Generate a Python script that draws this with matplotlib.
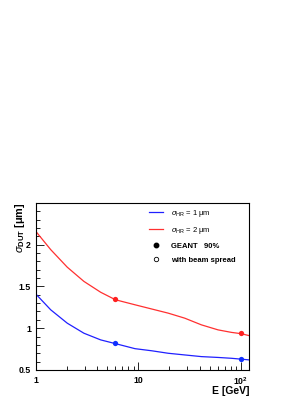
import matplotlib.pyplot as plt
from matplotlib.ticker import FixedLocator, FixedFormatter, MultipleLocator, LogLocator, NullFormatter
from matplotlib.lines import Line2D

plt.rcParams['font.family'] = ['Liberation Sans', 'DejaVu Sans']
plt.rcParams['mathtext.fontset'] = 'custom'
plt.rcParams['mathtext.rm'] = 'Liberation Sans'
plt.rcParams['mathtext.it'] = 'Liberation Sans:italic'
plt.rcParams['mathtext.bf'] = 'Liberation Sans:bold'

# curves
energy = [1, 1.4, 2.03, 2.95, 4.3, 6, 9.3, 13.5, 19.6, 28.4, 41.3, 60, 81, 100, 122]
sigma_hr1 = [1.41, 1.22, 1.06, 0.94, 0.86, 0.815, 0.755, 0.73, 0.70, 0.68, 0.66, 0.65, 0.64, 0.63, 0.62]
sigma_hr2 = [2.16, 1.94, 1.73, 1.56, 1.43, 1.34, 1.28, 1.23, 1.18, 1.12, 1.04, 0.98, 0.95, 0.935, 0.91]

# GEANT points
geant_e = [6, 100]
geant_hr1 = [0.82, 0.63]
geant_hr2 = [1.35, 0.94]

fig = plt.figure(figsize=(3.08, 3.98), dpi=100)
ax = fig.add_axes([0.116, 0.0704, 0.692, 0.420])

ax.plot(energy, sigma_hr1, color='#2020ff', lw=0.9)
ax.plot(energy, sigma_hr2, color='#ff3030', lw=0.9)
ax.plot(geant_e, geant_hr1, 'o', color='#1030ff', ms=3.8, mec='none')
ax.plot(geant_e, geant_hr2, 'o', color='#ff2020', ms=3.8, mec='none')

ax.set_xscale('log')
ax.set_xlim(1, 120)
ax.set_ylim(0.5, 2.5)

ax.xaxis.set_major_locator(FixedLocator([1, 10, 100]))
ax.xaxis.set_major_formatter(FixedFormatter(['1', '10', r'$\mathbf{10^2}$']))
ax.xaxis.set_minor_locator(LogLocator(subs=range(2, 10)))
ax.xaxis.set_minor_formatter(NullFormatter())
ax.yaxis.set_major_locator(FixedLocator([0.5, 1, 1.5, 2]))
ax.yaxis.set_major_formatter(FixedFormatter(['0.5', '1', '1.5', '2']))
ax.yaxis.set_minor_locator(MultipleLocator(0.1))

ax.tick_params(which='both', direction='in', top=False, right=False, labelsize=6.3, width=0.6)
ax.tick_params(which='major', length=6)
ax.tick_params(which='minor', length=3)
ax.tick_params(axis='x', pad=4)
for lab in ax.get_xticklabels() + ax.get_yticklabels():
    lab.set_fontweight('bold')
for s in ax.spines.values():
    s.set_linewidth(0.8)

# axis titles, ROOT style placement
fig.text(249 / 308, 1 - 391 / 398, 'E [GeV]', fontsize=7.5, fontweight='bold', ha='right', va='center')
fig.text(20 / 308, 1 - 203 / 398, r'$\sigma_{\mathbf{DUT}}$ [μm]', fontsize=7.8, fontweight='bold',
         rotation=90, ha='center', va='top')

handles = [
    Line2D([], [], color='#2020ff', lw=0.9),
    Line2D([], [], color='#ff3030', lw=0.9),
    Line2D([], [], marker='o', ls='none', color='black', ms=3.2),
    Line2D([], [], marker='o', ls='none', mfc='white', mec='black', ms=3.2, mew=0.6),
]
labels = [r'$\sigma_{\mathrm{HR}}$ = 1 μm', r'$\sigma_{\mathrm{HR}}$ = 2 μm', 'GEANT   90%', 'with beam spread']
leg = ax.legend(handles, labels, loc='upper left', bbox_to_anchor=(0.515, 0.99), frameon=False,
                fontsize=5.5, handlelength=1.85, labelspacing=0.85, handletextpad=1.15, borderaxespad=0)
for t in leg.get_texts()[2:]:
    t.set_fontweight('bold')

fig.savefig('out.png', dpi=100)
